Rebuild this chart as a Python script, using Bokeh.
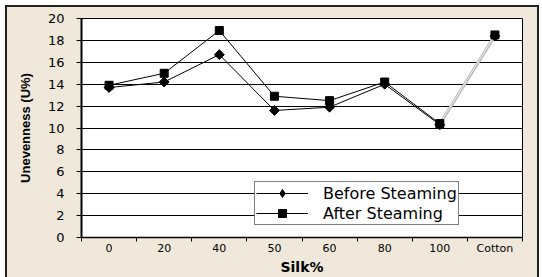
import numpy as np
from bokeh.plotting import figure
from bokeh.models import FixedTicker, Legend, LegendItem
from bokeh.embed import file_html
from bokeh.resources import INLINE

categories = ["0", "20", "40", "50", "60", "80", "100", "Cotton"]
before = [13.7, 14.2, 16.7, 11.6, 11.9, 14.0, 10.3, 18.4]
after = [13.9, 15.0, 18.9, 12.9, 12.5, 14.2, 10.4, 18.5]
yticks = list(range(0, 21, 2))

n = len(categories)
x = [i + 0.5 for i in range(n)]

BEIGE = "#EFE8DB"

p = figure(width=534, height=272, x_range=(0, n), y_range=(0, 20),
           output_backend="svg", toolbar_location=None,
           margin=(5, 0, 0, 5),
           min_border_left=76, min_border_right=17, min_border_top=13, min_border_bottom=40,
           background_fill_color="white", border_fill_alpha=0,
           outline_line_color="black", outline_line_width=1)
p.styles = {"background-color": BEIGE,
            "box-shadow": "inset 2px 2px 0 #222222, inset -2px 0 0 #222222"}

# x axis: labels at category centres, ticks at boundaries
xa = p.xaxis[0]
xa.ticker = FixedTicker(ticks=x, minor_ticks=list(range(0, n + 1)))
xa.major_label_overrides = {xi: c for xi, c in zip(x, categories)}
xa.major_tick_line_color = None
xa.major_tick_out = 4
xa.minor_tick_in = 0
xa.minor_tick_out = 4
xa.minor_tick_line_color = "black"
xa.axis_line_color = "black"
xa.axis_line_width = 1.5
xa.major_label_text_font = "DejaVu Sans"
xa.major_label_text_font_size = "11px"
xa.major_label_text_color = "black"
xa.major_label_standoff = 0
xa.axis_label = "Silk%"
xa.axis_label_text_font = "DejaVu Sans"
xa.axis_label_text_font_style = "bold"
xa.axis_label_text_font_size = "14px"
xa.axis_label_text_color = "black"
xa.axis_label_standoff = 1

ya = p.yaxis[0]
ya.ticker = FixedTicker(ticks=yticks)
ya.major_tick_in = 0
ya.major_tick_out = 5
ya.major_tick_line_color = "black"
ya.minor_tick_line_color = None
ya.axis_line_color = "black"
ya.axis_line_width = 2
ya.major_label_text_font = "DejaVu Sans"
ya.major_label_text_font_size = "13px"
ya.major_label_text_color = "black"
ya.major_label_standoff = 12
ya.axis_label = "Unevenness (U%)"
ya.axis_label_text_font = "Liberation Sans"
ya.axis_label_text_font_style = "bold"
ya.axis_label_text_font_size = "13px"
ya.axis_label_text_color = "black"
ya.axis_label_standoff = 12

p.xgrid.visible = False
p.ygrid.ticker = FixedTicker(ticks=yticks)
p.ygrid.grid_line_color = "black"
p.ygrid.grid_line_width = 1

# last segment (100 -> Cotton) drawn as a light grey double line
for series in (before, after):
    p.line(x[-2:], series[-2:], line_color="#B4B4B4", line_width=2.5)
    p.line(x[-2:], series[-2:], line_color="#F4F4F4", line_width=1)

lb = p.line(x[:-1], before[:-1], line_color="black", line_width=1)
la = p.line(x[:-1], after[:-1], line_color="black", line_width=1)
# diamond used for the legend key (hidden under the plotted diamonds)
sb_key = p.scatter(x, before, marker="diamond", size=7,
                   fill_color="black", line_color="black")
sb = p.scatter(x, before, marker="square", angle=np.pi / 4, size=7,
               fill_color="black", line_color="black")
sa = p.scatter(x, after, marker="square", size=8,
               fill_color="black", line_color="black")

legend = Legend(items=[LegendItem(label="Before Steaming", renderers=[lb, sb_key]),
                       LegendItem(label="After Steaming", renderers=[la, sa])],
                location=(173, 12), orientation="vertical",
                border_line_color="black", border_line_width=1,
                background_fill_color="white", background_fill_alpha=1,
                label_text_font="DejaVu Sans", label_text_font_size="16px",
                label_text_color="black",
                glyph_width=52, glyph_height=20, label_height=20,
                label_standoff=15, padding=1, spacing=0, margin=0)
p.add_layout(legend)

open("out.html", "w").write(file_html(p, INLINE))
